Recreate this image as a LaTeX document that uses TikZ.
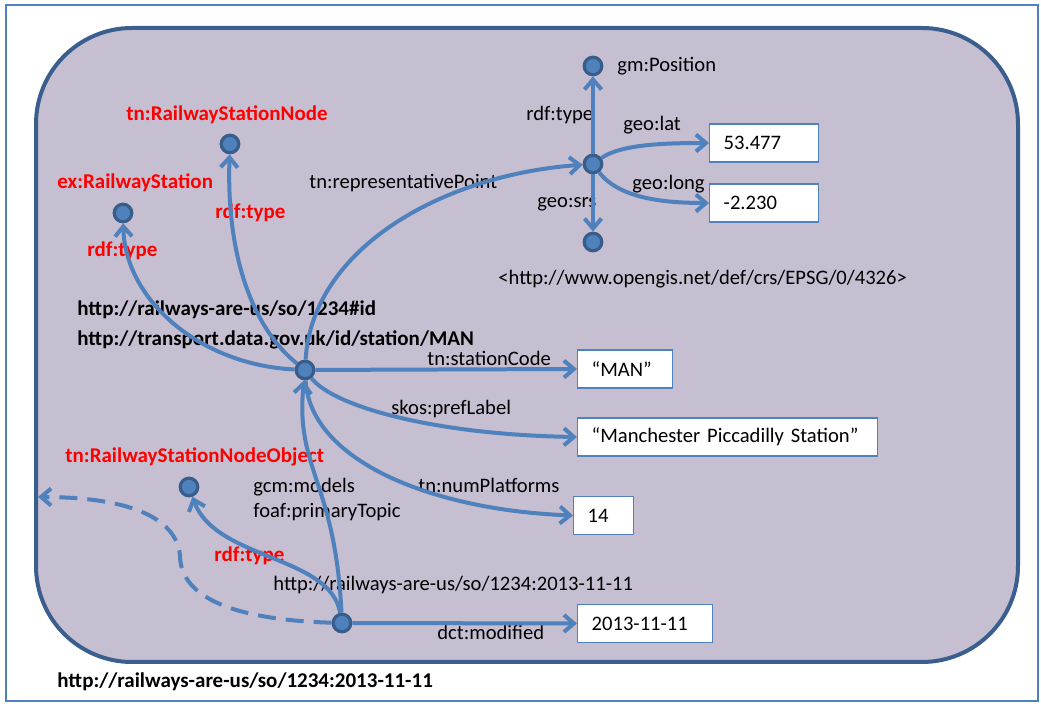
\documentclass[tikz,border=0pt]{standalone}
\usepackage{fontspec}
\setmainfont{Carlito}
\usetikzlibrary{arrows.meta}
\definecolor{lilac}{RGB}{198,190,209}
\definecolor{rim}{RGB}{58,95,142}
\definecolor{link}{RGB}{79,129,189}
\definecolor{ring}{RGB}{56,93,138}
\begin{document}
\begin{tikzpicture}[x=0.5pt,y=-0.5pt,
  txt/.style={inner sep=0pt,anchor=base west,font=\fontsize{10.3}{12}\selectfont},
  cls/.style={txt,text=red,font=\fontsize{10.5}{12}\selectfont\bfseries},
  uri/.style={txt,font=\fontsize{10.5}{12}\selectfont\bfseries},
  res/.style={circle,draw=ring,fill=link,line width=1.6pt,minimum size=8.8pt,inner sep=0pt},
  lit/.style={draw=link,fill=white,line width=0.7pt,anchor=west,minimum height=19pt,
    align=left,inner xsep=7pt,font=\fontsize{10.3}{12}\selectfont},
  prop/.style={draw=link,line width=2pt,-{Straight Barb[length=5pt,width=8.5pt]}}]
\useasboundingbox (0,0) rectangle (1041,704);
\draw[link,line width=1pt] (6,5) rectangle (1038,701);
\draw[rim,fill=lilac,line width=2pt,rounded corners=48pt] (36,28) rectangle (1018,662);
% labels
\node[txt] (tgm) at (617,72) {gm:Position};
\node[txt] (ttype) at (526,121) {rdf:type};
\node[txt] (tlat) at (623,131) {geo:lat};
\node[txt] (tlong) at (632,190) {geo:long};
\node[txt] (tsrs) at (537,208) {geo:srs};
\node[txt] (tepsg) at (498,285) {<http://www.opengis.net/def/crs/EPSG/0/4326>};
\node[txt] (trep) at (309,189) {tn:representativePoint};
\node[cls] (crsn) at (126,121) {tn:RailwayStationNode};
\node[cls] (cexrs) at (57,189) {ex:RailwayStation};
\node[cls] (ctype1) at (215,219) {rdf:type};
\node[cls] (ctype2) at (87,257) {rdf:type};
\node[uri] (uid) at (77,316) {http://railways-are-us/so/1234\#id};
\node[uri] (uman) at (77,346) {http://transport.data.gov.uk/id/station/MAN};
\node[txt] (tcode) at (427,366) {tn:stationCode};
\node[txt] (tpref) at (391,415) {skos:prefLabel};
\node[txt] (tplat) at (418,493) {tn:numPlatforms};
\node[cls] (crsno) at (65,463) {tn:RailwayStationNodeObject};
\node[txt] (tgcm) at (253,493) {gcm:models};
\node[txt] (tfoaf) at (253,518) {foaf:primaryTopic};
\node[cls] (ctype3) at (214,562) {rdf:type};
\node[txt] (tdoc) at (273,591) {http://railways-are-us/so/1234:2013-11-11};
\node[txt] (tmod) at (437,640) {dct:modified};
\node[uri] (udoc) at (57,688) {http://railways-are-us/so/1234:2013-11-11};
% literals
\node[lit,text width=40.5pt] (lat) at (709,143) {53.477};
\node[lit,text width=40.5pt] (lon) at (709,203) {-2.230};
\node[lit,text width=33.5pt] (code) at (577,369) {“MAN”};
\node[lit,text width=136pt] (label) at (577,437) {“Manchester Piccadilly Station”};
\node[lit,text width=16pt] (plat) at (573,515.5) {14};
\node[lit,text width=53.5pt] (mod) at (577,623.5) {2013-11-11};
% resources
\node[res] (main) at (305,370) {};
\node[res] (pos) at (593,164) {};
\node[res] (gmpos) at (593,66) {};
\node[res] (srs) at (593,242) {};
\node[res] (rsn) at (230,144) {};
\node[res] (exrs) at (123,213) {};
\node[res] (rsno) at (189,487) {};
\node[res] (dated) at (342,623) {};
\coordinate (outside) at (38,497);
% properties
\draw[prop] (pos) -- (gmpos);
\draw[prop] (pos) -- (srs);
\draw[prop] (pos) .. controls (620,145) and (660,143) .. (lat.west);
\draw[prop] (pos) .. controls (620,200) and (670,203) .. (lon.west);
\draw[prop] (main) .. controls (200,365) and (125,300) .. (exrs);
\draw[prop] (main) .. controls (255,330) and (226,260) .. (rsn);
\draw[prop] (main) .. controls (312,250) and (440,175) .. (pos);
\draw[prop] (main) -- (code.west);
\draw[prop] (main) .. controls (335,408) and (440,435) .. (label.west);
\draw[prop] (main) .. controls (310,460) and (430,510) .. (plat.west);
\draw[prop] (dated) .. controls (335,480) and (295,470) .. (main);
\draw[prop] (dated) .. controls (330,555) and (215,560) .. (rsno);
\draw[prop] (dated) -- (mod.west);
\draw[prop,dash pattern=on 9pt off 5pt] (dated) .. controls (240,620) and (180,600) .. (180,555)
  .. controls (175,510) and (110,497) .. (outside);
\end{tikzpicture}
\end{document}
